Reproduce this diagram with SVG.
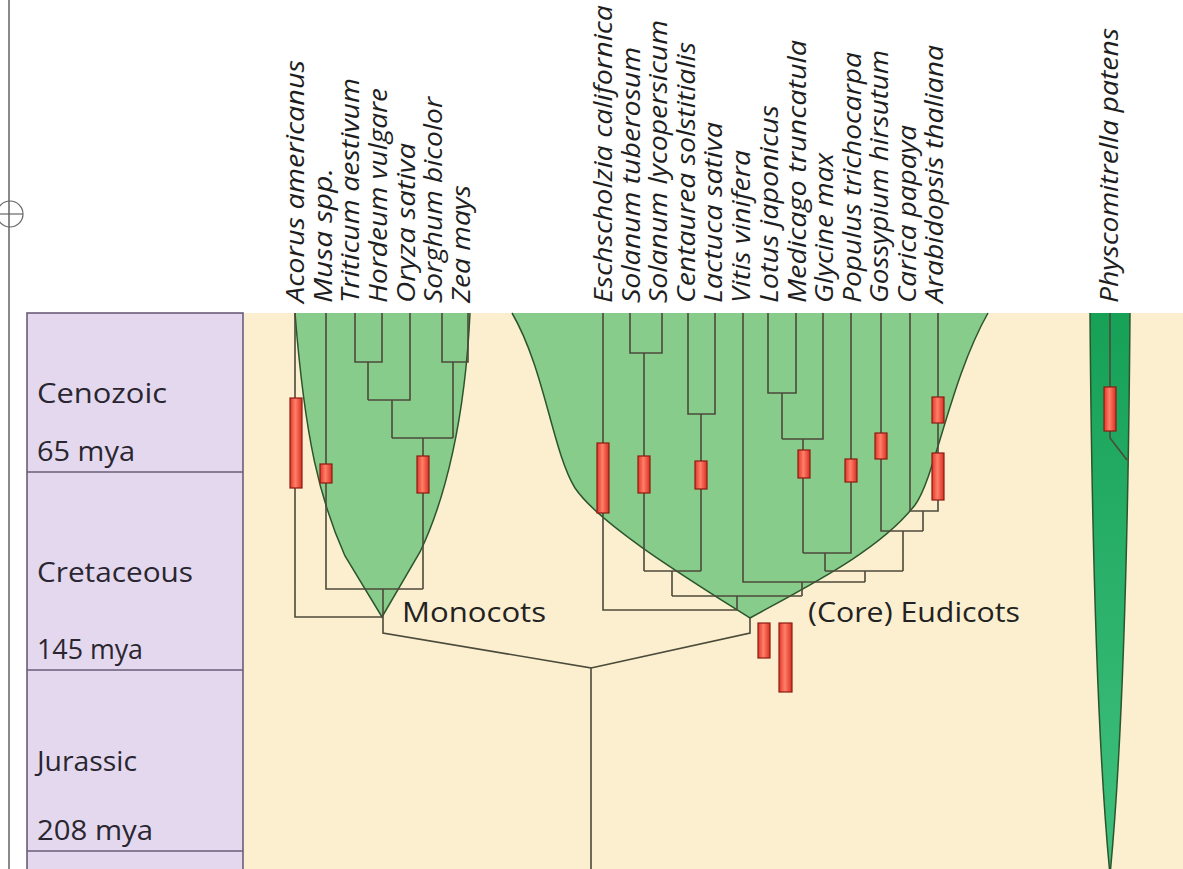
<svg xmlns="http://www.w3.org/2000/svg" width="1183" height="869" viewBox="0 0 1183 869">
<defs>
<linearGradient id="bar" x1="0" y1="0" x2="1" y2="0">
<stop offset="0" stop-color="#e0372a"/>
<stop offset="0.45" stop-color="#ff7f68"/>
<stop offset="1" stop-color="#d92f22"/>
</linearGradient>
<linearGradient id="moss" x1="0" y1="0" x2="0" y2="1">
<stop offset="0" stop-color="#16a157"/>
<stop offset="1" stop-color="#40c17e"/>
</linearGradient>
<style>
.sp{font-family:"Open Sans","Liberation Sans",sans-serif;font-style:italic;font-size:26px;fill:#1e1e1e}
.per{font-family:"Open Sans","Liberation Sans",sans-serif;font-size:28px;fill:#2a2630}
.cl{font-family:"Open Sans","Liberation Sans",sans-serif;font-size:28px;fill:#222}
.ln{fill:none;stroke:#4c4a3a;stroke-width:1.6}
.bar{fill:url(#bar);stroke:#8b1c12;stroke-width:1.2}
.edge{fill:none;stroke:#2c552e;stroke-width:1.5}
.green{fill:#88cc8c}
.prd{fill:#e3d8ee;stroke:#6a5c78;stroke-width:1.6}
</style>
</defs>
<rect x="0" y="0" width="1183" height="869" fill="#ffffff"/>
<rect x="244" y="313" width="939" height="556" fill="#fcefcf"/>
<g id="margin">
<line x1="9" y1="0" x2="9" y2="869" stroke="#8a8a8a" stroke-width="2"/>
<circle cx="10" cy="214" r="13" fill="none" stroke="#666" stroke-width="1.2"/>
<line x1="-4" y1="214" x2="23" y2="214" stroke="#666" stroke-width="1.2"/>
</g>
<g id="timescale">
<rect class="prd" x="27" y="313" width="216" height="570"/>
<line x1="27" y1="472" x2="243" y2="472" stroke="#6a5c78" stroke-width="1.6"/>
<line x1="27" y1="670" x2="243" y2="670" stroke="#6a5c78" stroke-width="1.6"/>
<line x1="27" y1="851" x2="243" y2="851" stroke="#6a5c78" stroke-width="1.6"/>
<g id="period-cenozoic"><text class="per" x="37" y="403" textLength="130" lengthAdjust="spacingAndGlyphs">Cenozoic</text><text class="per" x="37" y="461" textLength="98" lengthAdjust="spacingAndGlyphs">65 mya</text></g>
<g id="period-cretaceous"><text class="per" x="37" y="582" textLength="156" lengthAdjust="spacingAndGlyphs">Cretaceous</text><text class="per" x="37" y="659" textLength="106" lengthAdjust="spacingAndGlyphs">145 mya</text></g>
<g id="period-jurassic"><text class="per" x="37" y="771" textLength="100" lengthAdjust="spacingAndGlyphs">Jurassic</text><text class="per" x="37" y="840" textLength="116" lengthAdjust="spacingAndGlyphs">208 mya</text></g>
</g>
<g id="clade-monocots">
<path class="green" d="M295,313 C305,440 320,500 345,556 L382,617 L420,552 C445,500 465,420 470,313 Z"/>
<path class="edge" d="M295,313 C305,440 320,500 345,556 L382,617 L420,552 C445,500 465,420 470,313"/>
<text class="cl" x="402" y="622" textLength="144" lengthAdjust="spacingAndGlyphs">Monocots</text>
</g>
<g id="clade-eudicots">
<path class="green" d="M512,313 C545,370 552,450 575,488 C600,525 690,580 750,618 C810,585 880,550 915,505 C935,478 950,380 988,313 Z"/>
<path class="edge" d="M512,313 C545,370 552,450 575,488 C600,525 690,580 750,618 C810,585 880,550 915,505 C935,478 950,380 988,313"/>
<text class="cl" x="808" y="622" textLength="212" lengthAdjust="spacingAndGlyphs">(Core) Eudicots</text>
</g>
<g id="clade-moss">
<path d="M1090,313 L1130,313 Q1127,700 1110,875 Q1093,700 1090,313 Z" fill="url(#moss)"/>
<path class="edge" d="M1130,313 Q1127,700 1110,875 Q1093,700 1090,313"/>
</g>
<g id="connectors">
<path class="ln" d="M295,313 V617 H383 M326,313 V589 H423 M355,313 V362 H382 V313 M368,362 V400 M410,313 V400 H368 M392,400 V438 M442,313 V362 H468 V313 M453,362 V438 M392,438 H453 M423,438 V589 M383,589 V633 L591,668 V869"/>
<path class="ln" d="M603,313 V610 H737 M630,313 V353 H662 V313 M644,353 V571 M688,313 V414 H715 V313 M701,414 V571 M644,571 H701 M672,571 V596 M743,313 V582 H865 M768,313 V393 H796 V313 M782,393 V439 M823,313 V439 H782 M803,439 V553 M851,313 V553 H803 M825,553 V571 M910,313 V511 H938 V313 M923,511 V531 M881,313 V531 H923 M903,531 V571 M825,571 H903 M865,571 V582 M802,582 V596 M672,596 H802 M737,596 V610 M750,618 V633 L591,668"/>
<path class="ln" d="M1110,313 V438 L1127,460"/>
</g>
<g id="divergence-bars">
<rect class="bar" x="290" y="398" width="12" height="90"/>
<rect class="bar" x="320" y="464" width="12" height="19"/>
<rect class="bar" x="417" y="456" width="12" height="37"/>
<rect class="bar" x="597" y="443" width="12" height="70"/>
<rect class="bar" x="638" y="456" width="12" height="37"/>
<rect class="bar" x="695" y="461" width="12" height="28"/>
<rect class="bar" x="798" y="450" width="12" height="28"/>
<rect class="bar" x="845" y="459" width="12" height="23"/>
<rect class="bar" x="875" y="433" width="12" height="26"/>
<rect class="bar" x="932" y="397" width="12" height="26"/>
<rect class="bar" x="932" y="453" width="12" height="47"/>
<rect class="bar" x="758" y="623" width="12" height="35"/>
<rect class="bar" x="779" y="623" width="13" height="69"/>
<rect class="bar" x="1104" y="387" width="12" height="44"/>
</g>
<g id="taxa">
<g id="t-acorus"><text class="sp" transform="translate(304,303) rotate(-90)" textLength="243" lengthAdjust="spacingAndGlyphs">Acorus americanus</text></g>
<g id="t-musa"><text class="sp" transform="translate(332,303) rotate(-90)" textLength="135" lengthAdjust="spacingAndGlyphs">Musa spp.</text></g>
<g id="t-triticum"><text class="sp" transform="translate(359,303) rotate(-90)" textLength="225" lengthAdjust="spacingAndGlyphs">Triticum aestivum</text></g>
<g id="t-hordeum"><text class="sp" transform="translate(387,303) rotate(-90)" textLength="215" lengthAdjust="spacingAndGlyphs">Hordeum vulgare</text></g>
<g id="t-oryza"><text class="sp" transform="translate(415,303) rotate(-90)" textLength="160" lengthAdjust="spacingAndGlyphs">Oryza sativa</text></g>
<g id="t-sorghum"><text class="sp" transform="translate(442,303) rotate(-90)" textLength="206" lengthAdjust="spacingAndGlyphs">Sorghum bicolor</text></g>
<g id="t-zea"><text class="sp" transform="translate(470,303) rotate(-90)" textLength="118" lengthAdjust="spacingAndGlyphs">Zea mays</text></g>
<g id="t-eschscholzia"><text class="sp" transform="translate(612,303) rotate(-90)" textLength="298" lengthAdjust="spacingAndGlyphs">Eschscholzia californica</text></g>
<g id="t-sol-tub"><text class="sp" transform="translate(640,303) rotate(-90)" textLength="256" lengthAdjust="spacingAndGlyphs">Solanum tuberosum</text></g>
<g id="t-sol-lyc"><text class="sp" transform="translate(667,303) rotate(-90)" textLength="283" lengthAdjust="spacingAndGlyphs">Solanum lycopersicum</text></g>
<g id="t-centaurea"><text class="sp" transform="translate(695,303) rotate(-90)" textLength="261" lengthAdjust="spacingAndGlyphs">Centaurea solstitialis</text></g>
<g id="t-lactuca"><text class="sp" transform="translate(722,303) rotate(-90)" textLength="181" lengthAdjust="spacingAndGlyphs">Lactuca sativa</text></g>
<g id="t-vitis"><text class="sp" transform="translate(750,303) rotate(-90)" textLength="153" lengthAdjust="spacingAndGlyphs">Vitis vinifera</text></g>
<g id="t-lotus"><text class="sp" transform="translate(778,303) rotate(-90)" textLength="198" lengthAdjust="spacingAndGlyphs">Lotus japonicus</text></g>
<g id="t-medicago"><text class="sp" transform="translate(806,303) rotate(-90)" textLength="263" lengthAdjust="spacingAndGlyphs">Medicago truncatula</text></g>
<g id="t-glycine"><text class="sp" transform="translate(833,303) rotate(-90)" textLength="150" lengthAdjust="spacingAndGlyphs">Glycine max</text></g>
<g id="t-populus"><text class="sp" transform="translate(861,303) rotate(-90)" textLength="251" lengthAdjust="spacingAndGlyphs">Populus trichocarpa</text></g>
<g id="t-gossypium"><text class="sp" transform="translate(888,303) rotate(-90)" textLength="253" lengthAdjust="spacingAndGlyphs">Gossypium hirsutum</text></g>
<g id="t-carica"><text class="sp" transform="translate(916,303) rotate(-90)" textLength="178" lengthAdjust="spacingAndGlyphs">Carica papaya</text></g>
<g id="t-arabidopsis"><text class="sp" transform="translate(943,303) rotate(-90)" textLength="258" lengthAdjust="spacingAndGlyphs">Arabidopsis thaliana</text></g>
<g id="t-physcomitrella"><text class="sp" transform="translate(1118,303) rotate(-90)" textLength="275" lengthAdjust="spacingAndGlyphs">Physcomitrella patens</text></g>
</g>
</svg>
